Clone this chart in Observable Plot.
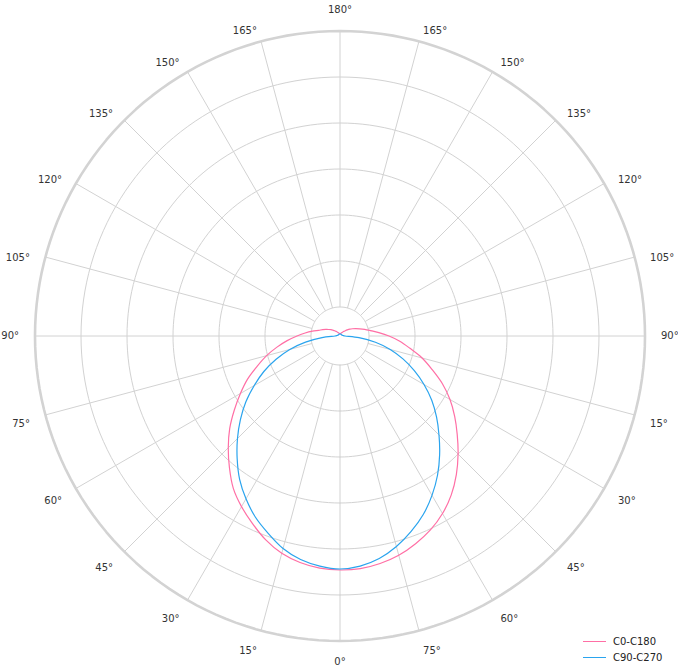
<!DOCTYPE html>
<html>
<head>
<meta charset="utf-8">
<script src="https://cdn.jsdelivr.net/npm/d3@7"></script>
<script src="https://cdn.jsdelivr.net/npm/@observablehq/plot@0.6"></script>
<style>
  body { margin: 0; background: #fff; font-family: "DejaVu Sans", sans-serif; }
  #wrap { position: relative; width: 678px; height: 672px; }
  #legend { position: absolute; left: 583px; top: 633px; font-size: 10px; color: #222; }
  #legend .row { display: flex; align-items: center; height: 16px; }
  #legend .sw { width: 23px; height: 0; border-top: 1.3px solid; margin-right: 7px; }
</style>
</head>
<body>
<div id="wrap"><div id="legend"></div></div>
<script>
// gamma angles (degrees) of the luminous intensity readings
const gammaAngles = [0,5,10,15,20,25,30,35,40,45,50,55,60,65,70,75,80,85,90,
  95,100,105,110,115,120,125,130,135,140,145,150,155,160,165,170,175,180];

// C0-C180 plane (pink): right half C0, left half C180
const c0Values = [234.5,233.5,231,227,221,214,205,194,181,167,153,140,127,113,98,85,71,60,49,
  39,31,25.5,21,17.5,14.5,12,9.5,7.5,6,5,4,3.5,3,2.5,2.5,2,2];
const c180Values = [234,233,230,225,217,207,197,186,172,158,144,129,115,102,88,76,64,53,43,
  35,28,22,18.5,15.5,13,11,9,7.5,6,5,4,3.5,3,2.5,2.5,2,2];

// C90-C270 plane (blue): right half C90, left half C270
const c90Values = [233,231,226,218,208,197,184,170,155,140,126,112,97,82,67,52,36,19,5,
  3.5,3,2.5,2.5,2,2,2,2,2,2,2,2,2,2,2,2,2,2];
const c270Values = [233,231,227,220,210,200,188,175,160,145,130,115,99,84,68,52,35,18,5,
  3.5,3,2.5,2.5,2,2,2,2,2,2,2,2,2,2,2,2,2,2];

const seriesNames = ["C0-C180", "C90-C270"];
const seriesColors = ["#ff6fa5", "#2aa4ee"];

// radial grid rings and outer limit
const ringValues = [29, 75, 121, 167, 213, 259];
const rMax = 305;

// spoke positions (degrees from bottom, counter-clockwise through the right side) and their labels
const spokeAngles = [0,15,30,45,60,75,90,105,120,135,150,165,180,195,210,225,240,255,270,285,300,315,330,345];
const spokeLabels = ["0°","75°","60°","45°","30°","15°","90°","105°","120°","135°","150°","165°",
  "180°","165°","150°","135°","120°","105°","90°","75°","60°","45°","30°","15°"];

const rad = a => a * Math.PI / 180;
const px = (r, a) => r * Math.sin(rad(a));
const py = (r, a) => -r * Math.cos(rad(a));

// build curve table: left half (gamma 180 -> 0) then right half (0 -> 180)
const curveRows = [];
function addSeries(name, leftVals, rightVals) {
  for (let i = gammaAngles.length - 1; i >= 0; i--)
    curveRows.push({series: name, pos: 360 - gammaAngles[i], value: leftVals[i]});
  for (let i = 1; i < gammaAngles.length; i++)
    curveRows.push({series: name, pos: gammaAngles[i], value: rightVals[i]});
}
addSeries(seriesNames[0], c180Values, c0Values);
addSeries(seriesNames[1], c270Values, c90Values);

const circleSteps = d3.range(0, 361, 2);
const ringRows = ringValues.flatMap(r => circleSteps.map(a => ({r, a})));
const outerRows = circleSteps.map(a => ({r: rMax, a}));
const labelR = 321;

const side = a => Math.round(Math.sin(rad(a)) * 1000);
const labelAnchor = a => side(a) > 0 ? "start" : side(a) < 0 ? "end" : "middle";
const labelDy = a => (a === 90 || a === 270) ? 0 : (a === 180 ? -5 : 4.6);

const labelMarks = spokeAngles.map((a, i) => Plot.text([{a, label: spokeLabels[i]}], {
  x: d => px(labelR, d.a), y: d => py(labelR, d.a),
  text: "label", fill: "#333", fontSize: 10,
  textAnchor: labelAnchor(a), lineAnchor: "middle", dy: labelDy(a)
}));

const chart = Plot.plot({
  width: 678,
  height: 672,
  marginLeft: 34.5,
  marginRight: 33.5,
  marginTop: 30.5,
  marginBottom: 31.5,
  x: {domain: [-rMax, rMax], axis: null},
  y: {domain: [-rMax, rMax], axis: null},
  color: {domain: seriesNames, range: seriesColors},
  style: {fontFamily: "DejaVu Sans, sans-serif", fontSize: "10px", overflow: "visible", background: "#fff"},
  marks: [
    Plot.line(ringRows, {x: d => px(d.r, d.a), y: d => py(d.r, d.a), z: "r", stroke: "#d2d2d2", strokeWidth: 1}),
    Plot.link(spokeAngles, {
      x1: a => px(ringValues[0], a), y1: a => py(ringValues[0], a),
      x2: a => px(rMax, a), y2: a => py(rMax, a),
      stroke: "#d2d2d2", strokeWidth: 1
    }),
    Plot.line(outerRows, {x: d => px(d.r, d.a), y: d => py(d.r, d.a), stroke: "#d3d3d3", strokeWidth: 2.6}),
    Plot.line(curveRows, {
      x: d => px(d.value, d.pos), y: d => py(d.value, d.pos),
      z: "series", stroke: "series", strokeWidth: 1.2, curve: "catmull-rom"
    }),
    ...labelMarks
  ]
});
document.getElementById("wrap").prepend(chart);

const legend = document.getElementById("legend");
seriesNames.forEach((name, i) => {
  const row = document.createElement("div");
  row.className = "row";
  const sw = document.createElement("span");
  sw.className = "sw";
  sw.style.borderColor = seriesColors[i];
  const label = document.createElement("span");
  label.textContent = name;
  row.append(sw, label);
  legend.append(row);
});
</script>
</body>
</html>
